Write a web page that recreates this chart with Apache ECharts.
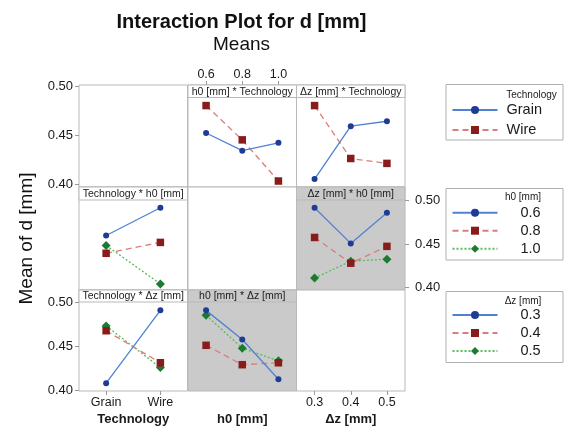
<!DOCTYPE html>
<html><head><meta charset="utf-8">
<script src="https://cdn.jsdelivr.net/npm/echarts@6/dist/echarts.min.js"></script>
<style>html,body{margin:0;padding:0;background:#fff}#c{width:567px;height:427px}</style>
</head><body><div id="c"></div>
<script>
// ---- data (means of d [mm]) ----
const techLevels = ['Grain', 'Wire'];
const h0Levels = ['0.6', '0.8', '1.0'];
const dzLevels = ['0.3', '0.4', '0.5'];
// Technology x h0 (values across h0 0.6, 0.8, 1.0)
const grainByH0 = [0.452, 0.434, 0.442];
const wireByH0 = [0.480, 0.445, 0.403];
// Technology x dz (values across dz 0.3, 0.4, 0.5)
const grainByDz = [0.405, 0.459, 0.464];
const wireByDz = [0.480, 0.426, 0.421];
// h0 x dz (values across dz 0.3, 0.4, 0.5)
const h06ByDz = [0.480, 0.444, 0.475];
const h08ByDz = [0.450, 0.424, 0.441];
const h10ByDz = [0.409, 0.426, 0.428];
// y tick labels
const yTickMin = 0.40, yTickMax = 0.50, yTickStep = 0.05;

// ---- styling / layout ----
const FONT = '"Liberation Sans", Arial, sans-serif';
const GRAY = '#cacaca', BORDER = '#b9b9b9', TICK = '#9a9a9a', TXT = '#1a1a1a';
const colLeft = [79, 188, 296.5], colW = 108.5;
const rowTop = [85, 187, 290], rowH = [102, 103, 102], stripH = [12.5, 13, 12];
const dataMin = 0.3969, dataMax = 0.501;
const STY = [
  {symbol: 'circle', size: 6, marker: '#1f3b94', line: '#4f82d2', type: 'solid'},
  {symbol: 'rect', size: 7.5, marker: '#8a1b1b', line: '#d97f7b', type: [6, 4]},
  {symbol: 'diamond', size: 9, marker: '#1c7a31', line: '#58bb5c', type: [2, 2]}
];

const h0ByDz = [h06ByDz, h08ByDz, h10ByDz];
const panels = [
  {r: 0, c: 0},
  {r: 0, c: 1, x: h0Levels, strip: 'h0 [mm] * Technology', xTop: true,
   lines: [['Grain', grainByH0, 0], ['Wire', wireByH0, 1]]},
  {r: 0, c: 2, x: dzLevels, strip: 'Δz [mm] * Technology',
   lines: [['Grain', grainByDz, 0], ['Wire', wireByDz, 1]]},
  {r: 1, c: 0, x: techLevels, strip: 'Technology * h0 [mm]',
   lines: h0Levels.map((h, i) => [h, [grainByH0[i], wireByH0[i]], i])},
  {r: 1, c: 1},
  {r: 1, c: 2, x: dzLevels, strip: 'Δz [mm] * h0 [mm]', gray: true,
   lines: h0Levels.map((h, i) => [h, h0ByDz[i], i])},
  {r: 2, c: 0, x: techLevels, strip: 'Technology * Δz [mm]', xBottom: true, xName: 'Technology',
   lines: dzLevels.map((d, i) => [d, [grainByDz[i], wireByDz[i]], i])},
  {r: 2, c: 1, x: h0Levels, strip: 'h0 [mm] * Δz [mm]', gray: true, xName: 'h0 [mm]',
   lines: dzLevels.map((d, i) => [d, h0ByDz.map(a => a[i]), i])},
  {r: 2, c: 2, x: dzLevels, xBottom: true, xName: 'Δz [mm]'}
];

const grid = [], xAxis = [], yAxis = [], series = [], graphic = [];

panels.forEach(p => {
  const gi = grid.length;
  grid.push({left: colLeft[p.c], top: rowTop[p.r], width: colW, height: rowH[p.r],
    show: true, backgroundColor: p.gray ? GRAY : '#fff', borderColor: BORDER, borderWidth: 1});
  const showX = !!(p.xTop || p.xBottom);
  xAxis.push({gridIndex: gi, type: 'category', data: p.x || [''], boundaryGap: true,
    position: p.xTop ? 'top' : 'bottom',
    axisLine: {show: false, onZero: false},
    axisTick: {show: showX, length: 4, alignWithLabel: true, lineStyle: {color: TICK}},
    axisLabel: {show: showX, fontSize: 12.5, fontFamily: FONT, color: TXT, margin: p.xTop ? 4 : 5},
    splitLine: {show: false},
    name: p.xName || '', nameLocation: 'middle', nameGap: 22,
    nameTextStyle: {fontSize: 13, fontWeight: 'bold', fontFamily: FONT, color: TXT}});
  yAxis.push({gridIndex: gi, type: 'value', min: dataMin, max: dataMax, show: false, splitLine: {show: false}});
  (p.lines || []).forEach(([name, data, si]) => {
    const s = STY[si];
    series.push({type: 'line', name, xAxisIndex: gi, yAxisIndex: gi, data,
      symbol: s.symbol, symbolSize: s.size, showSymbol: true, silent: true,
      itemStyle: {color: s.marker},
      lineStyle: {color: s.line, width: 1.3, type: s.type}, z: 3 + (2 - si)});
  });
  if (p.strip) {
    graphic.push({type: 'rect', z: 10,
      shape: {x: colLeft[p.c], y: rowTop[p.r], width: colW, height: stripH[p.r]},
      style: {fill: p.gray ? GRAY : '#fff', stroke: BORDER, lineWidth: 1}});
    graphic.push({type: 'text', z: 11, x: colLeft[p.c] + colW / 2, y: rowTop[p.r] + stripH[p.r] / 2 + 0.5,
      style: {text: p.strip, font: '10.5px ' + FONT, fill: TXT, textAlign: 'center', textVerticalAlign: 'middle'}});
  }
});

// value-label axes
const labelAxes = [
  {left: 79, top: 86.5, height: 97.5, pos: 'left', margin: 6},
  {left: 395, top: 200.7, height: 87, pos: 'right', margin: 10},
  {left: 79, top: 302.5, height: 87.5, pos: 'left', margin: 6}
];
labelAxes.forEach(a => {
  const gi = grid.length;
  grid.push({left: a.left, top: a.top, width: 10, height: a.height, show: false});
  xAxis.push({gridIndex: gi, type: 'value', min: 0, max: 1, show: false});
  yAxis.push({gridIndex: gi, type: 'value', min: yTickMin, max: yTickMax, interval: yTickStep,
    position: a.pos, axisLine: {show: false, onZero: false},
    axisTick: {show: true, length: 4, lineStyle: {color: TICK}},
    axisLabel: {fontSize: 13, fontFamily: FONT, color: TXT, margin: a.margin, formatter: v => v.toFixed(2)},
    splitLine: {show: false}});
});

// titles
graphic.push({type: 'text', x: 241.5, y: 22, style: {text: 'Interaction Plot for d [mm]',
  font: 'bold 20px ' + FONT, fill: '#111', textAlign: 'center', textVerticalAlign: 'middle'}});
graphic.push({type: 'text', x: 241.5, y: 44.5, style: {text: 'Means',
  font: '19px ' + FONT, fill: '#111', textAlign: 'center', textVerticalAlign: 'middle'}});
graphic.push({type: 'text', x: 27, y: 238.5, rotation: Math.PI / 2, style: {text: 'Mean of d [mm]',
  font: '19px ' + FONT, fill: '#111', textAlign: 'center', textVerticalAlign: 'middle'}});

// legend boxes and titles
const legendBoxes = [
  {top: 84.5, h: 55.5, title: 'Technology', tx: 531.5, ty: 95},
  {top: 188.5, h: 71.5, title: 'h0 [mm]', tx: 523, ty: 197},
  {top: 291.5, h: 71, title: 'Δz [mm]', tx: 523, ty: 301}
];
legendBoxes.forEach(b => {
  graphic.push({type: 'rect', shape: {x: 446, y: b.top, width: 117, height: b.h},
    style: {fill: '#fff', stroke: '#b0b0b0', lineWidth: 1}, z: 0});
  graphic.push({type: 'text', x: b.tx, y: b.ty, z: 11, style: {text: b.title,
    font: '10px ' + FONT, fill: TXT, textAlign: 'center', textVerticalAlign: 'middle'}});
});

function mkLegend(names, top, lh, gap, pad) {
  return {data: names, orient: 'vertical', left: 451.5, top, padding: 0, itemGap: gap,
    itemWidth: 45, itemHeight: 10, selectedMode: false, z: 12,
    textStyle: {fontSize: 14.5, fontFamily: FONT, color: TXT, lineHeight: lh, padding: [0, 0, 0, pad]}};
}
const legend = [
  mkLegend(techLevels, 101, 18, 2, 4),
  mkLegend(h0Levels, 204.2, 17, 1, 18),
  mkLegend(dzLevels, 306.5, 17, 1, 18)
];

const chart = echarts.init(document.getElementById('c'), null, {renderer: 'canvas'});
chart.setOption({animation: false, backgroundColor: '#fff', grid, xAxis, yAxis, series, legend, graphic});
</script></body></html>
